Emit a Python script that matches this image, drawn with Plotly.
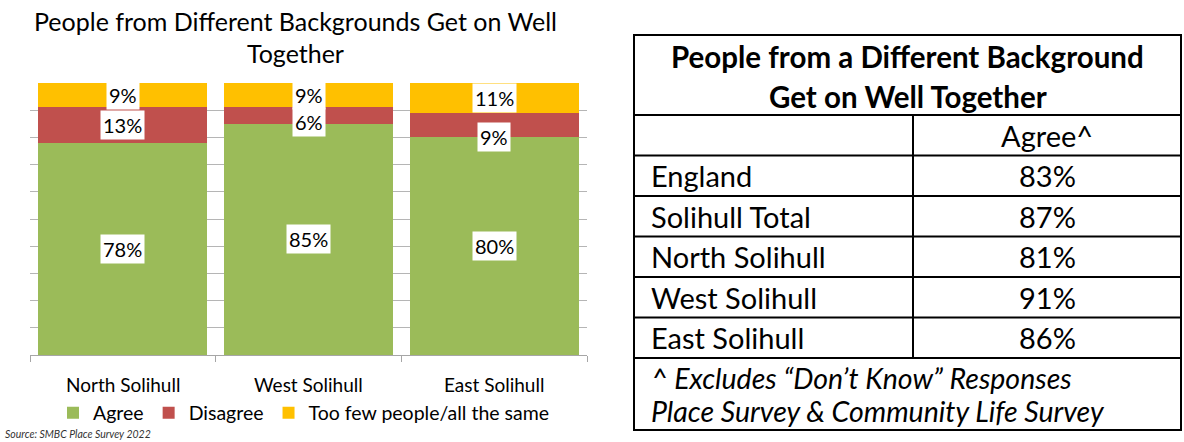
import plotly.graph_objects as go

# ---------------- data ----------------
areas = ["North Solihull", "West Solihull", "East Solihull"]
agree = [78, 85, 80]
disagree = [13, 6, 9]
too_few = [9, 9, 11]
series_names = ["Agree", "Disagree", "Too few people/all the same"]

chart_title_lines = ["People from Different Backgrounds Get on Well", "Together"]
source_note = "Source: SMBC Place Survey 2022"

table_title_lines = ["People from a Different Background", "Get on Well Together"]
table_col_header = "Agree^"
table_rows = ["England", "Solihull Total", "North Solihull", "West Solihull", "East Solihull"]
table_values = ["83%", "87%", "81%", "91%", "86%"]
table_notes = ["^ Excludes \u201cDon\u2019t Know\u201d Responses", "Place Survey & Community Life Survey"]

# ---------------- style ----------------
W, H = 1184, 442
FONT = "Lato"
colors = ["#9BBB59", "#C0504D", "#FFC000"]
# small vertical nudges (px) on a few data labels, as in the original
label_nudge = {(1, 1): -6, (2, 1): -12}


def px(x):
    return x / W


def py(y):
    return 1 - y / H


plot_left, plot_right, plot_top, plot_bottom = 30, 587, 83, 355

fig = go.Figure()
series = [agree, disagree, too_few]
xs = list(range(len(areas)))
for name, vals, col in zip(series_names, series, colors):
    fig.add_trace(go.Bar(x=xs, y=vals, name=name, marker=dict(color=col, line=dict(width=0)),
                         hoverinfo="skip"))

annotations = []
# data labels (white boxes) at segment centres
for i in xs:
    base = 0
    for s, vals in enumerate(series):
        v = vals[i]
        annotations.append(dict(x=i, y=base + v / 2, xref="x", yref="y", text=f"{v}%",
                                showarrow=False, bgcolor="white", xanchor="center", yanchor="middle",
                                font=dict(family=FONT, size=20, color="black"),
                                borderpad=2, yshift=label_nudge.get((i, s), 0)))
        base += v
# category labels
for i, a in enumerate(areas):
    annotations.append(dict(x=i, y=py(384), xref="x", yref="paper", text=a, showarrow=False,
                            xanchor="center", yanchor="middle",
                            font=dict(family=FONT, size=19, color="black")))
# chart title
for k, line in enumerate(chart_title_lines):
    annotations.append(dict(x=px(295), y=py(21 + 32 * k), xref="paper", yref="paper", text=line,
                            showarrow=False, xanchor="center", yanchor="middle",
                            font=dict(family=FONT, size=25, color="black")))
# source
annotations.append(dict(x=px(3), y=py(434), xref="paper", yref="paper", text=f"<i>{source_note}</i>",
                        showarrow=False, xanchor="left", yanchor="middle",
                        font=dict(family=FONT, size=10.5, color="#333333")))

# ---------------- table ----------------
t_left, t_right, t_top, t_div = 634, 1181, 35, 913
title_bottom = 115
row_h = 40.5
n_body = len(table_rows) + 1  # header row + data rows
body_bottom = title_bottom + row_h * n_body
t_bottom = 430

shapes = []
line = dict(color="black", width=2)
shapes.append(dict(type="rect", xref="paper", yref="paper", x0=px(t_left), x1=px(t_right),
                   y0=py(t_top), y1=py(t_bottom), line=line))
for r in range(n_body + 1):
    yy = title_bottom + row_h * r
    shapes.append(dict(type="line", xref="paper", yref="paper", x0=px(t_left), x1=px(t_right),
                       y0=py(yy), y1=py(yy), line=line))
shapes.append(dict(type="line", xref="paper", yref="paper", x0=px(t_div), x1=px(t_div),
                   y0=py(title_bottom), y1=py(body_bottom), line=line))

tfont = dict(family=FONT, size=29, color="black")
for k, line_txt in enumerate(table_title_lines):
    annotations.append(dict(x=px((t_left + t_right) / 2), y=py(57 + 39 * k), xref="paper", yref="paper",
                            text=f"<b>{line_txt}</b>", showarrow=False, xanchor="center",
                            yanchor="middle", font=dict(family=FONT, size=29.5, color="black")))
val_cx = (t_div + t_right) / 2
annotations.append(dict(x=px(val_cx), y=py(title_bottom + row_h / 2), xref="paper", yref="paper",
                        text=table_col_header, showarrow=False, xanchor="center", yanchor="middle",
                        font=tfont))
for r, (lab, val) in enumerate(zip(table_rows, table_values)):
    yc = title_bottom + row_h * (r + 1) + row_h / 2
    annotations.append(dict(x=px(t_left + 15), y=py(yc), xref="paper", yref="paper", text=lab,
                            showarrow=False, xanchor="left", yanchor="middle", font=tfont))
    annotations.append(dict(x=px(val_cx), y=py(yc), xref="paper", yref="paper", text=val,
                            showarrow=False, xanchor="center", yanchor="middle", font=tfont))
for k, note in enumerate(table_notes):
    annotations.append(dict(x=px(t_left + 15), y=py(378 + 33 * k), xref="paper", yref="paper",
                            text=f"<i>{note}</i>", showarrow=False, xanchor="left", yanchor="middle",
                            font=dict(family=FONT, size=28.5, color="black")))

fig.update_layout(
    width=W, height=H,
    margin=dict(l=0, r=0, t=0, b=0),
    paper_bgcolor="white", plot_bgcolor="white",
    barmode="stack", bargap=0.09,
    font=dict(family=FONT, color="black"),
    xaxis=dict(domain=[px(plot_left), px(plot_right)], range=[-0.5, 2.5],
               tickvals=[-0.5, 0.5, 1.5, 2.5], ticktext=["", "", "", ""],
               ticks="outside", ticklen=6, tickcolor="#A6A6A6", tickwidth=1,
               showline=True, linecolor="#A6A6A6", linewidth=1, showgrid=False,
               zeroline=False, fixedrange=True),
    yaxis=dict(domain=[py(plot_bottom), py(plot_top)], range=[0, 100], dtick=10,
               showticklabels=False, showgrid=True, gridcolor="#B5B5B5", gridwidth=1,
               zeroline=False, showline=False, fixedrange=True),
    legend=dict(orientation="h", x=px(304), xanchor="center", y=py(413), yanchor="middle",
                font=dict(family=FONT, size=19.5, color="black"), traceorder="normal",
                itemwidth=30, tracegroupgap=0),
    annotations=annotations,
    shapes=shapes,
    showlegend=True,
)

fig.write_html("out.html", config={"displayModeBar": False},
               post_script="document.body.style.margin='0';document.body.style.overflow='hidden';")
